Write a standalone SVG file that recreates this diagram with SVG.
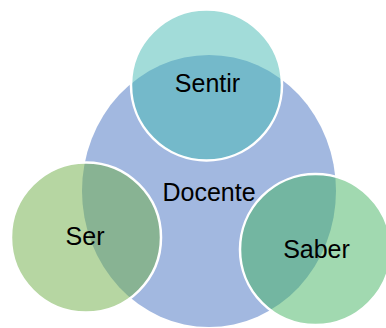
<svg xmlns="http://www.w3.org/2000/svg" width="386" height="328" viewBox="0 0 386 328">
<style>
.lbl{font-family:"Liberation Sans",Arial,sans-serif;font-size:25px;fill:#000;text-anchor:middle}
.sat{stroke:#fff;stroke-width:2.5;fill-opacity:0.5}
</style>
<rect width="386" height="328" fill="#fff"/>
<g id="docente">
<ellipse cx="209" cy="191" rx="127" ry="136" fill="#A2B8E0"/>
<text class="lbl" x="209" y="200.5">Docente</text>
</g>
<g id="sentir">
<circle class="sat" cx="206.5" cy="85" r="75.5" fill="#45B9B3"/>
<text class="lbl" x="207.5" y="91.5">Sentir</text>
</g>
<g id="ser">
<circle class="sat" cx="86" cy="237.5" r="75" fill="#6DAD45"/>
<text class="lbl" x="85" y="245">Ser</text>
</g>
<g id="saber">
<circle class="sat" cx="315.5" cy="249.5" r="75.5" fill="#43B361"/>
<text class="lbl" x="316.5" y="257.5">Saber</text>
</g>
</svg>
